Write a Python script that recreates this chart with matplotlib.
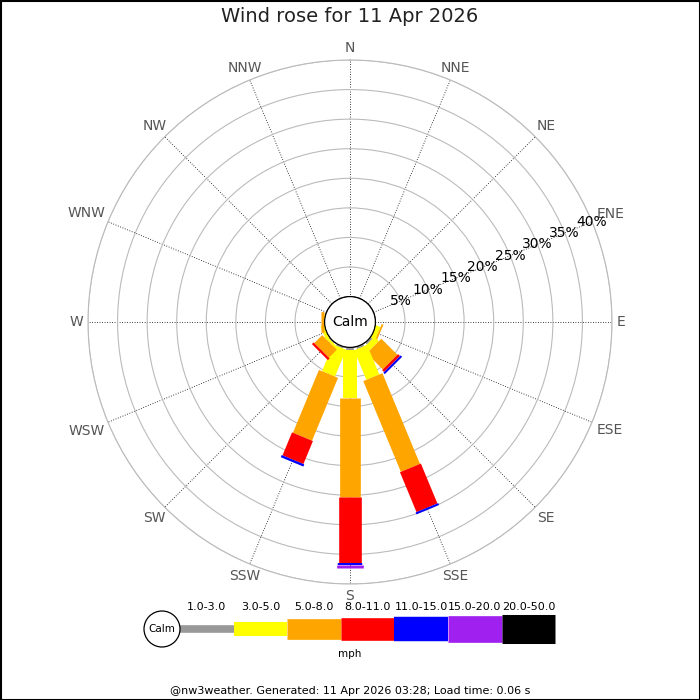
import numpy as np
import matplotlib
matplotlib.use("Agg")
import matplotlib.pyplot as plt
from matplotlib.patches import Circle, Rectangle

# Compass sectors (16 points) and speed bands (mph)
directions = ['N', 'NNE', 'NE', 'ENE', 'E', 'ESE', 'SE', 'SSE',
              'S', 'SSW', 'SW', 'WSW', 'W', 'WNW', 'NW', 'NNW']
speed_bins = ['1.0-3.0', '3.0-5.0', '5.0-8.0', '8.0-11.0',
              '11.0-15.0', '15.0-20.0', '20.0-50.0']

# Frequency (% of observations) per direction, one list per speed band
pct_1_3   = [0, 0, 0, 0, 0, 0.0, 0.40, 0.40, 0.50, 0.30, 0.2, 0.0, 0.00, 0, 0, 0]
pct_3_5   = [0, 0, 0, 0, 0, 0.8, 1.05, 5.40, 8.00, 4.90, 0.4, 0.6, 0.15, 0, 0, 0]
pct_5_8   = [0, 0, 0, 0, 0, 0.3, 3.85, 16.6, 16.8, 11.5, 1.9, 0.0, 0.45, 0, 0, 0]
pct_8_11  = [0, 0, 0, 0, 0, 0.0, 0.45, 7.30, 11.1, 4.20, 0.4, 0.0, 0.00, 0, 0, 0]
pct_11_15 = [0, 0, 0, 0, 0, 0.0, 0.35, 0.35, 0.40, 0.40, 0.0, 0.0, 0.00, 0, 0, 0]
pct_15_20 = [0, 0, 0, 0, 0, 0.0, 0.00, 0.00, 0.55, 0.00, 0.0, 0.0, 0.00, 0, 0, 0]
pct_20_50 = [0, 0, 0, 0, 0, 0.0, 0.00, 0.00, 0.00, 0.00, 0.0, 0.0, 0.00, 0, 0, 0]

ring_values = [5, 10, 15, 20, 25, 30, 35, 40]

title = 'Wind rose for 11 Apr 2026'
footer = '@nw3weather. Generated: 11 Apr 2026 03:28; Load time: 0.06 s'
units = 'mph'

band_values = [pct_1_3, pct_3_5, pct_5_8, pct_8_11, pct_11_15, pct_15_20, pct_20_50]
band_colors = ['#999999', '#ffff00', '#ffa500', '#ff0000', '#0000ff', '#a020f0', '#000000']
band_widths = [5.5, 10.1, 14.9, 16.3, 17.6, 19.2, 20.9]   # points

W = H = 700
DPI = 100
fig = plt.figure(figsize=(W / DPI, H / DPI), dpi=DPI)
fig.patch.set_facecolor('white')

# Polar plot placement (pixels)
cx, cy, R = 350, 322, 262
calm_px = 25.4
rmax = 40
rorigin = -calm_px * rmax / (R - calm_px)

ax = fig.add_axes([(cx - R) / W, 1 - (cy + R) / H, 2 * R / W, 2 * R / H],
                  projection='polar')
ax.set_theta_zero_location('N')
ax.set_theta_direction(-1)
ax.set_ylim(0, rmax)
ax.set_rorigin(rorigin)
ax.set_facecolor('none')

thetas = np.deg2rad(np.arange(16) * 22.5)
ax.set_xticks(thetas)
ax.set_xticklabels([])
ax.set_yticks(ring_values)
ax.set_yticklabels([])
ax.tick_params(length=0)
ax.xaxis.grid(True, color='black', linestyle=(0, (1, 2)), linewidth=0.6)
ax.yaxis.grid(True, color='#bbbbbb', linestyle='-', linewidth=0.8)
ax.spines['polar'].set_color('#bbbbbb')
ax.spines['polar'].set_linewidth(0.8)
ax.spines['inner'].set_visible(False)

# Stacked bars drawn as thick radial strokes
for i, th in enumerate(thetas):
    start = 0.0
    for vals, col, lw in zip(band_values, band_colors, band_widths):
        v = vals[i]
        if v <= 0:
            continue
        ax.plot([th, th], [start, start + v], color=col, linewidth=lw,
                solid_capstyle='butt', zorder=3)
        start += v

# Calm disc in the middle
calm_r = calm_px / (2 * R)
ax.add_patch(Circle((0.5, 0.5), calm_r, transform=ax.transAxes,
                    facecolor='white', edgecolor='black', linewidth=0.9,
                    zorder=5, clip_on=False))
ax.text(0.5, 0.5, 'Calm', transform=ax.transAxes, ha='center', va='center',
        fontsize=10, color='black', zorder=6)

# Ring labels along the ENE spoke
for v in ring_values:
    ax.text(np.deg2rad(67.5), v, f'{v}%', ha='center', va='center',
            fontsize=10, color='black', zorder=6, clip_on=False)

# Compass labels just outside the outer ring
dir_texts = []
for th, name in zip(thetas, directions):
    t = ax.annotate(name, xy=(th, rmax), xytext=(0, 0), textcoords='offset points',
                    ha='center', va='center', fontsize=10, color='#555555',
                    annotation_clip=False)
    dir_texts.append((th, t))
fig.canvas.draw()
renderer = fig.canvas.get_renderer()
for th, t in dir_texts:
    bb = t.get_window_extent(renderer)
    w, h = bb.width, bb.height
    ux, uy = np.sin(th), np.cos(th)
    cands = []
    if abs(ux) > 1e-6:
        cands.append(w / 2 / abs(ux))
    if abs(uy) > 1e-6:
        cands.append(h / 2 / abs(uy))
    d = 5 + min(cands)
    t.xyann = (ux * d * 72 / DPI, uy * d * 72 / DPI)

# Overlay in pixel coordinates: title, legend, footer, frame
ov = fig.add_axes([0, 0, 1, 1], zorder=-1)
ov.set_xlim(0, W)
ov.set_ylim(H, 0)
ov.axis('off')
ov.patch.set_alpha(0)

ov.text(W / 2, 17, title, ha='center', va='center', fontsize=14, color='#222222')

leg_y = 629
leg_x0 = 180.0
seg = 53.6
ov.add_patch(Circle((162, leg_y), 18, facecolor='white', edgecolor='black',
                    linewidth=0.9, zorder=4))
ov.text(162, leg_y, 'Calm', ha='center', va='center', fontsize=7.5, zorder=5)
for k, (lab, col, lw) in enumerate(zip(speed_bins, band_colors, band_widths)):
    x0 = leg_x0 + k * seg
    ov.plot([x0, x0 + seg], [leg_y, leg_y], color=col, linewidth=lw,
            solid_capstyle='butt', zorder=3)
    ov.text(x0 + seg / 2, 607, lab, ha='center', va='center', fontsize=8,
            color='black')
ov.text(W / 2, 654, units, ha='center', va='center', fontsize=7.5, color='black')

ov.text(W / 2, 691, footer, ha='center', va='center', fontsize=8, color='black')
ov.add_patch(Rectangle((0.5, 0.5), W - 1, H - 1, facecolor='none',
                       edgecolor='black', linewidth=1.5))

fig.savefig('out.png', dpi=DPI, facecolor='white')
